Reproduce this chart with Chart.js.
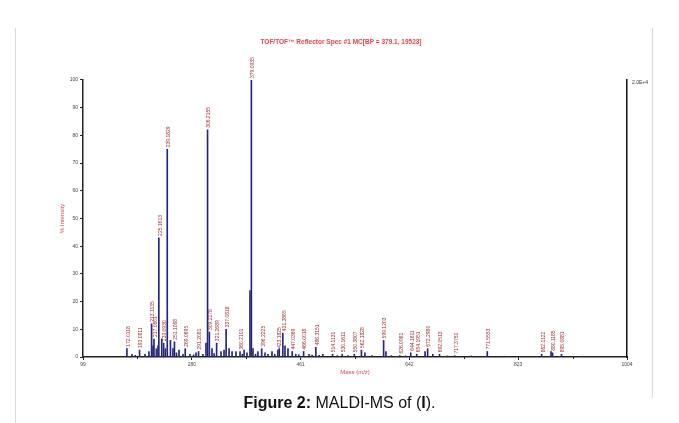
<!DOCTYPE html>
<html>
<head>
<meta charset="utf-8">
<script src="https://cdn.jsdelivr.net/npm/chart.js@4/dist/chart.umd.min.js"></script>
<style>
  html, body { margin: 0; padding: 0; background: #fff; }
  #wrap { position: relative; width: 679px; height: 423px; overflow: hidden; }
  #c { position: absolute; left: 0; top: 0; }
  .vline { position: absolute; width: 1px; background: #d8d8d8; }
  #caption { position: absolute; left: 0; width: 679px; top: 394px; text-align: center;
    font-family: "Liberation Sans", Arial, sans-serif; font-size: 16px; color: #111; }
</style>
</head>
<body>
<div id="wrap">
  <canvas id="c" width="679" height="423"></canvas>
  <div class="vline" style="left:15px; top:28px; height:395px;"></div>
  <div class="vline" style="left:652px; top:28px; height:370px;"></div>
  <div id="caption"><b>Figure 2:</b> MALDI-MS of (<b>I</b>).</div>
</div>
<script>
// ---- data ----
const titleText = "TOF/TOF\u2122 Reflector Spec #1 MC[BP = 379.1, 19523]";
const xTicks = [99, 280, 461, 642, 823, 1004];
const xMinorTicks = [189.5, 370.5, 551.5, 732.5, 913.5];
const yTicks = [0, 10, 20, 30, 40, 50, 60, 70, 80, 90, 100];
const maxIntensityLabel = "2.0E+4";

const mz = [
  172.0118, 180.5, 186.0, 193.0811, 202.1, 208.8, 213.1135, 215.5, 217.0601, 221.0, 223.8,
  225.1613, 230.0, 233.0930, 236.0, 239.1829, 244.5, 248.7, 251.1068, 254.5, 258.7,
  265.4, 269.0695, 277.0, 283.0, 287.0, 291.2081, 298.6, 303.6, 306.2155, 309.2178,
  313.6, 317.0, 321.2689, 328.6, 333.6, 337.0818, 342.0, 347.0, 353.5, 360.2101,
  364.0, 367.0, 371.8, 376.8, 379.0935, 381.8, 386.0, 390.0, 396.2225, 401.8, 406.8,
  413.4, 418.0, 423.1825, 425.5, 431.3865, 435.0, 440.0, 447.0369, 453.0, 458.0,
  466.0018, 475.0, 480.0, 486.3151, 492.0, 498.0, 514.1131, 522.0, 530.1611, 540.0,
  550.3807, 562.1828, 568.0, 580.0, 599.1203, 603.0, 612.0, 626.0981, 636.0, 644.1611,
  654.1951, 668.0, 672.2980, 681.0, 692.0513, 705.0, 717.3751, 745.0, 771.5553,
  800.0, 862.1122, 877.6, 880.1185, 895.0881, 930.0
];
const intensity = [
  3.0, 1.0, 0.6, 2.5, 1.0, 2.0, 12.0, 4.0, 6.5, 3.0, 4.0,
  43.0, 6.5, 5.0, 3.0, 75.0, 6.0, 3.0, 5.5, 1.5, 2.5,
  1.0, 3.0, 1.0, 0.8, 1.5, 2.0, 1.0, 5.0, 82.0, 9.0,
  3.0, 1.2, 5.0, 2.0, 2.5, 10.0, 3.0, 2.0, 2.0, 2.0,
  1.0, 2.5, 1.5, 24.0, 100.0, 3.0, 1.0, 2.0, 3.0, 1.5, 1.0,
  2.0, 1.0, 2.5, 3.0, 8.6, 4.0, 3.0, 2.0, 1.0, 0.8,
  2.0, 1.0, 0.7, 3.5, 0.6, 1.0, 1.0, 0.5, 1.0, 0.5,
  1.0, 2.5, 1.5, 0.5, 6.0, 2.0, 0.5, 0.5, 0.4, 1.5,
  1.0, 2.0, 3.0, 1.0, 1.0, 0.4, 0.5, 0.4, 2.0,
  0.3, 1.0, 2.0, 1.5, 1.0, 0.3
];
// peaks that carry an m/z annotation in the reference
const labelledMz = [
  172.0118, 193.0811, 213.1135, 217.0601, 225.1613, 233.0930, 239.1829, 251.1068,
  269.0695, 291.2081, 306.2155, 309.2178, 321.2689, 337.0818, 360.2101, 379.0935,
  396.2225, 423.1825, 431.3865, 447.0369, 466.0018, 486.3151, 514.1131, 530.1611,
  550.3807, 562.1828, 599.1203, 626.0981, 644.1611, 654.1951, 672.2980, 692.0513,
  717.3751, 771.5553, 862.1122, 880.1185, 895.0881
];

// ---- chart ----
const points = mz.map((v, i) => ({ x: v, y: intensity[i] }));
const FONT = '"Liberation Sans", Arial, sans-serif';

const peakLabelPlugin = {
  id: 'peakLabels',
  afterDatasetsDraw(chart) {
    const ctx = chart.ctx, xs = chart.scales.x, ys = chart.scales.y;
    ctx.save();
    ctx.font = '5px ' + FONT;
    ctx.fillStyle = '#9a2b30';
    ctx.textAlign = 'left';
    ctx.textBaseline = 'middle';
    labelledMz.forEach(v => {
      const idx = mz.indexOf(v);
      const px = xs.getPixelForValue(v);
      const py = ys.getPixelForValue(intensity[idx]);
      ctx.save();
      ctx.translate(px + 1.5, py - 2);
      ctx.rotate(-Math.PI / 2);
      ctx.fillText(v.toFixed(4), 0, 0);
      ctx.restore();
    });
    // scale annotation at top right
    ctx.fillStyle = '#333';
    ctx.fillText(maxIntensityLabel, chart.chartArea.right + 5, chart.chartArea.top + 3);
    // minor ticks on x axis
    ctx.strokeStyle = '#222';
    ctx.lineWidth = 1;
    xMinorTicks.forEach(v => {
      const px = Math.round(xs.getPixelForValue(v)) + 0.5;
      ctx.beginPath();
      ctx.moveTo(px, chart.chartArea.bottom);
      ctx.lineTo(px, chart.chartArea.bottom + 2);
      ctx.stroke();
    });
    ctx.restore();
  }
};

new Chart(document.getElementById('c'), {
  type: 'bar',
  data: {
    datasets: [{
      data: points,
      backgroundColor: '#25257c',
      borderWidth: 0,
      barThickness: 1,
      grouped: false
    }]
  },
  options: {
    responsive: false,
    animation: false,
    layout: { padding: { left: 55, right: 52, top: 0, bottom: 43 } },
    plugins: {
      legend: { display: false },
      tooltip: { enabled: false },
      title: {
        display: true,
        text: titleText,
        color: '#e8404a',
        font: { family: FONT, size: 6.5, weight: 'bold' },
        padding: { top: 38.3, bottom: 33.9 }
      }
    },
    scales: {
      x: {
        type: 'linear',
        offset: false,
        min: 99, max: 1004,
        afterBuildTicks: s => { s.ticks = xTicks.map(v => ({ value: v })); },
        afterFit: s => { s.height = 23; },
        ticks: { color: '#444', font: { size: 5, family: FONT }, padding: 2, maxRotation: 0, autoSkip: false,
                 callback: v => String(v) },
        grid: { display: true, offset: false, drawOnChartArea: false, drawTicks: true, tickLength: 3, color: '#222' },
        border: { display: true, color: '#222', width: 1.5 },
        title: { display: true, text: 'Mass (m/z)', color: '#e8404a', font: { size: 6, family: FONT }, padding: { top: 0, bottom: 4 } }
      },
      y: {
        min: 0, max: 100,
        afterBuildTicks: s => { s.ticks = yTicks.map(v => ({ value: v })); },
        afterFit: s => { s.width = 28; },
        ticks: { color: '#444', font: { size: 5, family: FONT }, padding: 2 },
        grid: { display: true, drawOnChartArea: false, drawTicks: true, tickLength: 3, color: '#222' },
        border: { display: true, color: '#222', width: 1.5 },
        title: { display: true, text: '% Intensity', color: '#e8404a', font: { size: 6, family: FONT }, padding: { top: 4, bottom: 0 } }
      },
      y2: {
        position: 'right',
        min: 0, max: 100,
        afterFit: s => { s.width = 0; },
        ticks: { display: false },
        grid: { display: false, drawTicks: false },
        border: { display: true, color: '#111', width: 1.5 }
      }
    }
  },
  plugins: [peakLabelPlugin]
});
</script>
</body>
</html>
